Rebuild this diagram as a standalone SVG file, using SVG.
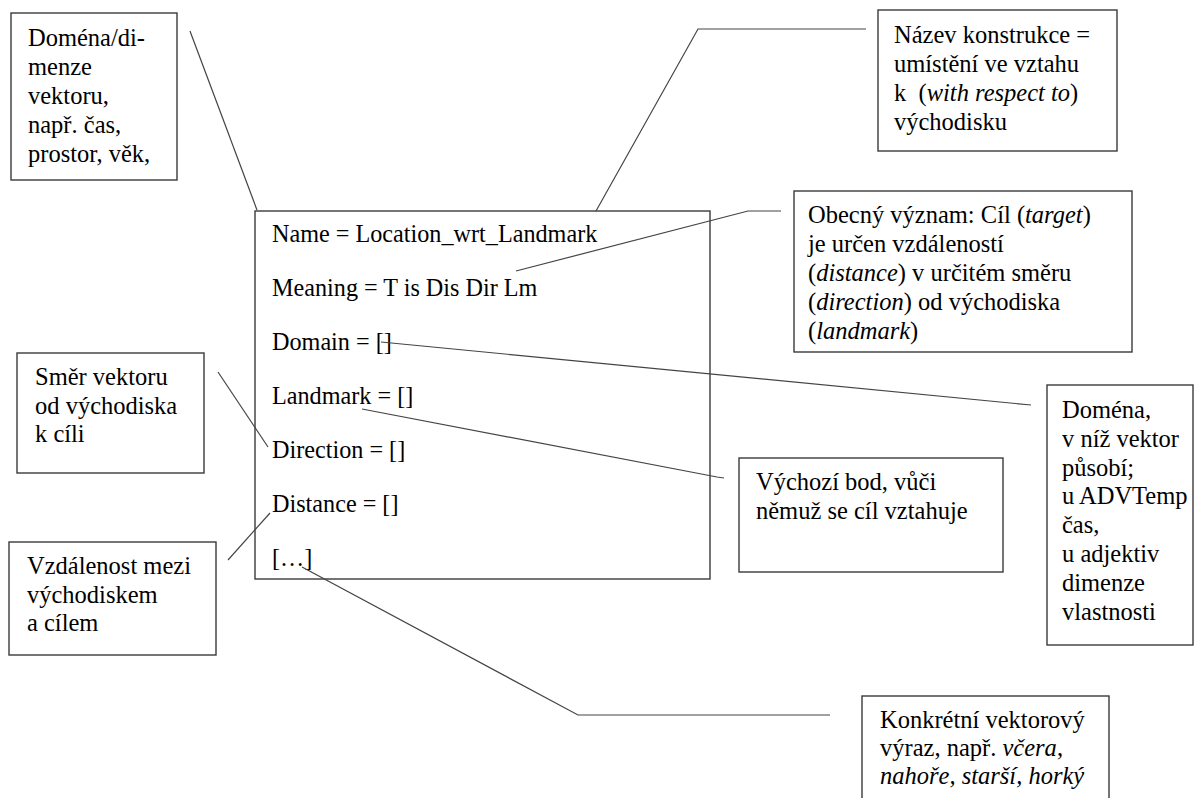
<svg xmlns="http://www.w3.org/2000/svg" width="1195" height="798" viewBox="0 0 1195 798">
<style>
.box{fill:none;stroke:#3a3a3a;stroke-width:1.4}
.t{font-family:'Liberation Serif','DejaVu Serif',serif;font-size:24.5px;fill:#000}
.m{font-size:24.2px}
.i{font-style:italic}
.c{fill:none;stroke:#444;stroke-width:1.2}
</style>
<rect width="1195" height="798" fill="#fff"/>
<g id="main">
<rect class="box" x="255" y="211" width="455" height="368"/>
<text class="t m" x="272" y="242">Name = Location_wrt_Landmark</text>
<text class="t m" x="272" y="296">Meaning = T is Dis Dir Lm</text>
<text class="t m" x="272" y="350">Domain = []</text>
<text class="t m" x="272" y="404">Landmark = []</text>
<text class="t m" x="272" y="458">Direction = []</text>
<text class="t m" x="272" y="512">Distance = []</text>
<text class="t m" x="272" y="566">[…]</text>
</g>
<g id="domena-dimenze">
<rect class="box" x="11" y="13" width="166" height="167"/>
<text class="t" x="28" y="46">Doména/di-</text>
<text class="t" x="28" y="75">menze</text>
<text class="t" x="28" y="104">vektoru,</text>
<text class="t" x="28" y="133">např. čas,</text>
<text class="t" x="28" y="162">prostor, věk,</text>
</g>
<g id="nazev">
<rect class="box" x="878" y="10" width="239" height="141"/>
<text class="t" x="894" y="43">Název konstrukce =</text>
<text class="t" x="894" y="72">umístění ve vztahu</text>
<text class="t" x="894" y="101">k&#160; (<tspan class="i">with respect to</tspan>)</text>
<text class="t" x="894" y="130">východisku</text>
</g>
<g id="obecny">
<rect class="box" x="794" y="191" width="338" height="161"/>
<text class="t" x="808" y="223">Obecný význam: Cíl (<tspan class="i">target</tspan>)</text>
<text class="t" x="808" y="252">je určen vzdáleností</text>
<text class="t" x="808" y="281">(<tspan class="i">distance</tspan>) v určitém směru</text>
<text class="t" x="808" y="310">(<tspan class="i">direction</tspan>) od východiska</text>
<text class="t" x="808" y="339">(<tspan class="i">landmark</tspan>)</text>
</g>
<g id="domena-pusobi">
<rect class="box" x="1047" y="385" width="146" height="260"/>
<text class="t" x="1062" y="418">Doména,</text>
<text class="t" x="1062" y="447">v níž vektor</text>
<text class="t" x="1062" y="476">působí;</text>
<text class="t" x="1062" y="504">u ADVTemp</text>
<text class="t" x="1062" y="533">čas,</text>
<text class="t" x="1062" y="562">u adjektiv</text>
<text class="t" x="1062" y="591">dimenze</text>
<text class="t" x="1062" y="620">vlastnosti</text>
</g>
<g id="vychozi">
<rect class="box" x="739" y="458" width="264" height="114"/>
<text class="t" x="756" y="490">Výchozí bod, vůči</text>
<text class="t" x="756" y="519">němuž se cíl vztahuje</text>
</g>
<g id="smer">
<rect class="box" x="17" y="353" width="187" height="120"/>
<text class="t" x="35" y="385">Směr vektoru</text>
<text class="t" x="35" y="414">od východiska</text>
<text class="t" x="35" y="442">k cíli</text>
</g>
<g id="vzdalenost">
<rect class="box" x="9" y="542" width="207" height="113"/>
<text class="t" x="27" y="574">Vzdálenost mezi</text>
<text class="t" x="27" y="603">východiskem</text>
<text class="t" x="27" y="631">a cílem</text>
</g>
<g id="konkretni">
<rect class="box" x="862" y="696" width="247" height="120"/>
<text class="t" x="880" y="728">Konkrétní vektorový</text>
<text class="t" x="880" y="756">výraz, např. <tspan class="i">včera</tspan>,</text>
<text class="t" x="880" y="784"><tspan class="i">nahoře, starší, horký</tspan></text>
</g>
<g id="connectors">
<polyline class="c" points="190,31 257,210"/>
<polyline class="c" points="596,211 698,29 866,29"/>
<polyline class="c" points="516,271 748,211 781,211"/>
<polyline class="c" points="381,342 1031,405"/>
<polyline class="c" points="362,409 717,477 724,478"/>
<polyline class="c" points="218,372 268,447"/>
<polyline class="c" points="228,560 270,513"/>
<polyline class="c" points="302,567 578,715 830,715"/>
</g>
</svg>
